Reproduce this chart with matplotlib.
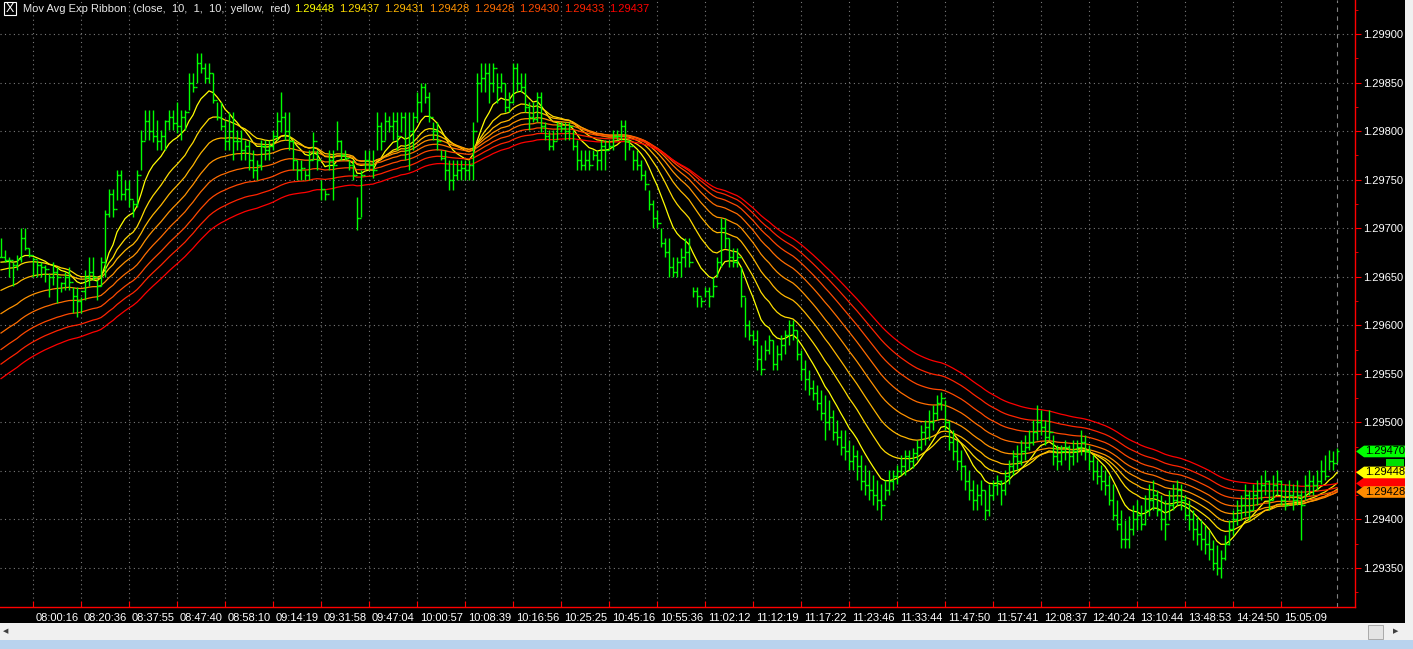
import numpy as np
import matplotlib
matplotlib.use("Agg")
import matplotlib.pyplot as plt
import matplotlib.transforms as mtransforms
from matplotlib.collections import LineCollection
from matplotlib.patches import Rectangle, Polygon

plt.rcParams['font.family'] = ['Liberation Sans', 'DejaVu Sans']

# prices are stored in points (1e-5) above 1.29000
PRICE_BASE = 1.29
PT = 1e-5

hi_pts = [
    690, 677, 670, 665, 672, 700, 700, 680, 670, 667,
    665, 662, 654, 665, 660, 645, 655, 660, 639, 639,
    629, 657, 670, 670, 647, 670, 719, 740, 740, 760,
    760, 750, 750, 729, 760, 801, 822, 822, 822, 811,
    801, 811, 822, 822, 830, 822, 822, 860, 860, 880,
    880, 870, 870, 860, 830, 830, 811, 820, 820, 801,
    801, 791, 791, 780, 770, 791, 791, 791, 801, 820,
    840, 820, 820, 791, 770, 770, 760, 780, 799, 780,
    750, 739, 780, 780, 810, 791, 780, 770, 770, 732,
    760, 780, 780, 780, 820, 809, 820, 816, 820, 820,
    820, 820, 820, 820, 840, 850, 850, 840, 809, 809,
    780, 780, 770, 770, 770, 770, 770, 770, 809, 860,
    870, 870, 870, 870, 860, 860, 850, 840, 870, 870,
    860, 860, 830, 830, 840, 840, 809, 801, 801, 809,
    809, 809, 809, 801, 791, 780, 780, 780, 780, 780,
    791, 791, 791, 801, 801, 811, 811, 791, 780, 780,
    770, 760, 739, 729, 719, 700, 690, 690, 670, 670,
    680, 690, 690, 639, 639, 629, 639, 639, 650, 670,
    710, 710, 690, 680, 680, 660, 629, 605, 595, 595,
    580, 585, 590, 585, 580, 590, 595, 605, 605, 595,
    575, 564, 554, 544, 538, 533, 528, 523, 513, 502,
    492, 492, 482, 477, 472, 466, 456, 451, 446, 441,
    436, 441, 451, 451, 456, 466, 472, 472, 474, 482,
    497, 502, 513, 518, 528, 531, 523, 502, 492, 482,
    472, 456, 451, 441, 436, 441, 430, 436, 441, 446,
    441, 451, 461, 472, 477, 482, 487, 492, 502, 518,
    513, 502, 513, 487, 477, 477, 482, 477, 482, 482,
    492, 487, 477, 466, 461, 456, 451, 446, 436, 420,
    410, 399, 404, 415, 420, 415, 425, 436, 441, 430,
    425, 420, 430, 436, 441, 436, 425, 420, 410, 404,
    399, 394, 389, 379, 374, 369, 384, 399, 410, 420,
    425, 436, 430, 436, 441, 446, 451, 441, 446, 451,
    441, 436, 441, 436, 441, 430, 446, 451, 446, 451,
    461, 466, 472, 470, 474,
]

lo_pts = [
    670, 665, 650, 640, 657, 665, 677, 670, 650, 650,
    650, 645, 629, 641, 623, 634, 636, 636, 613, 609,
    613, 626, 640, 647, 626, 640, 650, 712, 712, 729,
    729, 729, 722, 712, 722, 760, 791, 791, 789, 780,
    780, 780, 801, 801, 798, 791, 801, 822, 840, 850,
    860, 850, 850, 829, 811, 801, 780, 780, 770, 780,
    770, 770, 760, 752, 750, 760, 770, 770, 780, 791,
    799, 791, 780, 760, 750, 750, 750, 750, 770, 760,
    729, 729, 760, 729, 780, 770, 770, 760, 750, 698,
    712, 760, 760, 752, 780, 780, 791, 799, 791, 780,
    799, 770, 760, 780, 809, 820, 829, 809, 791, 780,
    770, 750, 739, 739, 750, 750, 750, 750, 750, 809,
    840, 840, 829, 840, 829, 840, 820, 820, 829, 840,
    840, 820, 801, 809, 809, 799, 791, 780, 780, 791,
    799, 791, 791, 780, 760, 760, 760, 760, 770, 760,
    760, 760, 780, 780, 791, 791, 770, 780, 760, 760,
    750, 739, 719, 700, 700, 681, 670, 650, 650, 650,
    650, 660, 660, 629, 619, 619, 629, 619, 629, 650,
    660, 680, 660, 660, 660, 619, 588, 585, 580, 554,
    549, 564, 570, 554, 554, 564, 570, 580, 585, 564,
    544, 533, 528, 523, 513, 502, 482, 492, 482, 477,
    466, 461, 451, 451, 441, 430, 425, 420, 415, 410,
    399, 420, 425, 430, 436, 446, 446, 451, 453, 461,
    472, 477, 482, 492, 502, 513, 492, 472, 461, 451,
    441, 430, 420, 410, 410, 415, 399, 404, 420, 425,
    415, 425, 436, 446, 451, 456, 461, 472, 477, 482,
    487, 477, 482, 456, 451, 456, 461, 451, 456, 459,
    466, 461, 451, 441, 436, 430, 425, 415, 399, 389,
    371, 371, 371, 384, 389, 389, 394, 404, 410, 404,
    389, 379, 399, 410, 415, 410, 399, 389, 379, 374,
    369, 364, 358, 348, 343, 340, 358, 374, 384, 394,
    399, 404, 399, 410, 415, 420, 425, 410, 420, 425,
    415, 410, 420, 410, 415, 379, 420, 425, 425, 430,
    436, 441, 451, 451, 459,
]

close_pts = [
    670, 667, 667, 662, 668, 690, 680, 672, 668, 662,
    660, 658, 650, 655, 650, 643, 650, 645, 630, 625,
    635, 650, 655, 650, 640, 665, 715, 735, 720, 755,
    735, 740, 730, 725, 755, 790, 810, 800, 795, 790,
    795, 810, 815, 808, 805, 815, 820, 850, 845, 870,
    865, 855, 860, 832, 815, 805, 790, 800, 790, 790,
    780, 785, 770, 760, 765, 785, 780, 785, 795, 810,
    815, 800, 790, 770, 760, 762, 755, 770, 790, 770,
    740, 735, 770, 765, 790, 775, 772, 765, 755, 710,
    755, 770, 765, 760, 805, 790, 810, 805, 810, 795,
    815, 780, 800, 815, 830, 845, 835, 815, 800, 790,
    772, 760, 750, 755, 760, 762, 760, 765, 800, 850,
    855, 860, 850, 865, 845, 850, 825, 830, 865, 850,
    845, 825, 815, 812, 835, 805, 795, 785, 790, 805,
    803, 800, 805, 785, 770, 765, 770, 765, 775, 770,
    785, 780, 785, 795, 795, 805, 790, 785, 770, 765,
    755, 745, 725, 710, 705, 685, 675, 660, 655, 665,
    670, 675, 665, 635, 630, 625, 635, 630, 640, 665,
    700, 690, 670, 665, 670, 630, 600, 590, 585, 565,
    555, 575, 585, 560, 570, 580, 590, 600, 595, 570,
    555, 545, 535, 530, 520, 510, 500, 505, 490, 485,
    475, 470, 460, 465, 455, 440, 435, 430, 425, 420,
    415, 430, 440, 445, 450, 455, 465, 460, 468, 475,
    490, 495, 500, 510, 520, 525, 500, 480, 470, 460,
    455, 440, 430, 420, 425, 430, 410, 425, 435, 440,
    430, 445, 455, 465, 460, 470, 475, 480, 490, 500,
    495, 485, 490, 465, 460, 470, 475, 465, 470, 475,
    480, 470, 460, 450, 445, 440, 435, 420, 405, 395,
    380, 380, 390, 400, 405, 395, 410, 420, 425, 410,
    400, 395, 415, 420, 430, 420, 405, 400, 390, 385,
    380, 375, 370, 355, 350, 360, 375, 390, 400, 410,
    415, 425, 410, 425, 430, 435, 440, 420, 435, 440,
    420, 415, 425, 420, 425, 415, 435, 440, 435, 440,
    450, 445, 460, 458, 470,
]

# ribbon: EMA lengths and the values each average had at the first visible bar
ribbon_lengths = [10, 20, 30, 40, 50, 60, 70, 80]
ribbon_start_pts = [665, 657, 636, 612, 592, 575, 560, 545]

time_labels = ["08:00:16", "08:20:36", "08:37:55", "08:47:40", "08:58:10", "09:14:19",
               "09:31:58", "09:47:04", "10:00:57", "10:08:39", "10:16:56", "10:25:25",
               "10:45:16", "10:55:36", "11:02:12", "11:12:19", "11:17:22", "11:23:46",
               "11:33:44", "11:47:50", "11:57:41", "12:08:37", "12:40:24", "13:10:44",
               "13:48:53", "14:24:50", "15:05:09"]
time_label_bars = [8 + 12 * k for k in range(len(time_labels))]

highs = PRICE_BASE + np.array(hi_pts) * PT
lows = PRICE_BASE + np.array(lo_pts) * PT
closes = PRICE_BASE + np.array(close_pts) * PT
opens = np.concatenate([[closes[0]], closes[:-1]])
x = np.arange(len(closes))


def ema(values, length, start):
    alpha = 2.0 / (length + 1)
    out = [start]
    for v in values[1:]:
        out.append(out[-1] + alpha * (v - out[-1]))
    return np.array(out)


n_rib = len(ribbon_lengths)
rib_colors = [(1.0, 1.0 - k / (n_rib - 1), 0.0) for k in range(n_rib)]
ribbons = [ema(closes, n, PRICE_BASE + s * PT) for n, s in zip(ribbon_lengths, ribbon_start_pts)]

W, H = 1413, 649
fig = plt.figure(figsize=(W / 100, H / 100), dpi=100, facecolor='black')
ax = fig.add_axes([0, 42 / H, 1355 / W, 607 / H], facecolor='black')

# ribbon lines
for r, c in zip(ribbons, rib_colors):
    ax.plot(x, r, color=c, lw=0.9, zorder=3)

# OHLC bars
segs = []
for i in range(len(x)):
    segs.append([(i, lows[i]), (i, highs[i])])
    segs.append([(i - 0.5, opens[i]), (i, opens[i])])
    segs.append([(i, closes[i]), (i + 0.5, closes[i])])
ax.add_collection(LineCollection(segs, colors='#00ff00', linewidths=1.0, zorder=4))

ax.axvline(len(x) - 1, color='#808080', lw=0.8, ls=(0, (4, 4)), zorder=2)

ax.set_xlim(-0.25, 338.5)
ax.set_ylim(1.293098, 1.29935)

ax.yaxis.tick_right()
yt = np.arange(1.2935, 1.29901, 0.0005)
ax.set_yticks(yt)
ax.set_yticklabels([f"{v:.5f}" for v in yt])
ax.set_yticks(np.arange(1.29325, 1.2993, 0.0005), minor=True)
ax.tick_params(axis='y', which='major', direction='out', length=4, color='red',
               labelcolor='white', labelsize=8, pad=1.5)
ax.tick_params(axis='y', which='minor', direction='out', length=2, color='red')

ax.set_xticks(time_label_bars)
ax.set_xticklabels(time_labels)
ax.tick_params(axis='x', direction='in', length=4, color='red', labelcolor='white',
               labelsize=8, pad=4)
shift = mtransforms.ScaledTranslation(0.03, 0, fig.dpi_scale_trans)
for lbl in ax.get_xticklabels():
    lbl.set_ha('left')
    lbl.set_transform(lbl.get_transform() + shift)

ax.grid(True, which='major', color='#7a7a7a', linestyle=(0, (1, 3)), linewidth=0.8)
for s in ['top', 'left']:
    ax.spines[s].set_visible(False)
for s in ['right', 'bottom']:
    ax.spines[s].set_color('red')
    ax.spines[s].set_linewidth(1.0)

# legend line at the top
fig.patches.append(Rectangle((4 / W, 1 - 15 / H), 12 / W, 13 / H, transform=fig.transFigure,
                             fill=False, ec='white', lw=0.8))
fig.text(10 / W, 1 - 8.5 / H, "X", color='white', fontsize=9, ha='center', va='center')
fig.text(23 / W, 1 - 9 / H, "Mov Avg Exp Ribbon  (close,  10,  1,  10,  yellow,  red)",
         color='#e8e8e8', fontsize=8, va='center')
for k, r in enumerate(ribbons):
    fig.text((294 + 45 * k) / W, 1 - 9 / H, f"{r[-1]:.5f}", color=rib_colors[k],
             fontsize=8, va='center')

# price tags on the right scale
tr = mtransforms.blended_transform_factory(fig.transFigure, ax.transData)
tag_h = 0.00012


def price_tag(value, face, label=None):
    pts = [(1356 / W, value), (1364 / W, value + tag_h / 2), (1405 / W, value + tag_h / 2),
           (1405 / W, value - tag_h / 2), (1364 / W, value - tag_h / 2)]
    fig.patches.append(Polygon(pts, closed=True, transform=tr, fc=face, ec='none'))
    if label:
        fig.text(1365 / W, value, label, transform=tr, color='black', fontsize=8,
                 va='center', ha='left')


price_tag(ribbons[-1][-1], '#ff0000')
fig.patches.append(Rectangle((1386 / W, 1.29455), 18 / W, 0.00007, transform=tr,
                             fc='#00e000', ec='none'))
price_tag(ribbons[0][-1], '#ffff00', f"{ribbons[0][-1]:.5f}")
price_tag(ribbons[3][-1], '#ff8c00', f"{ribbons[3][-1]:.5f}")
price_tag(closes[-1], '#00ff00', f"{closes[-1]:.5f}")

# window chrome: right strip, scroll bar, status strip
fig.patches.append(Rectangle((1405 / W, 26 / H), 8 / W, 1 - 26 / H, transform=fig.transFigure,
                             fc='#f0f0f0', ec='none'))
fig.patches.append(Rectangle((0, 9 / H), 1, 17 / H, transform=fig.transFigure,
                             fc='#f0f0f0', ec='none'))
fig.patches.append(Rectangle((0, 0), 1, 9 / H, transform=fig.transFigure,
                             fc='#b9d3ee', ec='none'))
fig.patches.append(Rectangle((1368 / W, 10 / H), 15 / W, 14 / H, transform=fig.transFigure,
                             fc='#e4e4e4', ec='#a0a0a0', lw=0.6))
fig.text(6 / W, 17 / H, "◀", color='#404040', fontsize=5, ha='center', va='center')
fig.text(1396 / W, 17 / H, "▶", color='#404040', fontsize=5, ha='center', va='center')

fig.savefig("out.png", dpi=100, facecolor='black')
